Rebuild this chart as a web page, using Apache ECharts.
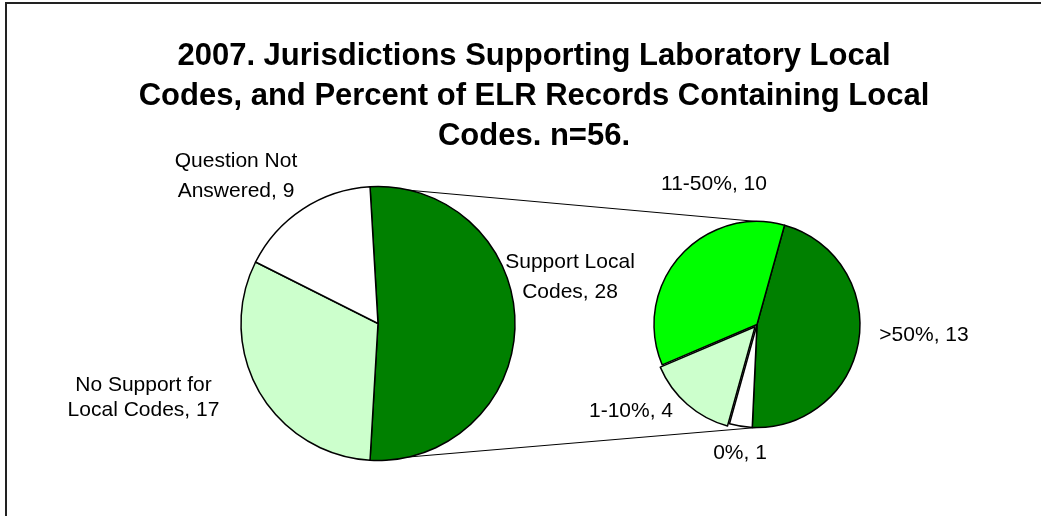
<!DOCTYPE html>
<html>
<head>
<meta charset="utf-8">
<script src="https://cdn.jsdelivr.net/npm/echarts@6/dist/echarts.min.js"></script>
<style>
  html, body { margin: 0; padding: 0; background: #fff; }
  #chart { width: 1041px; height: 516px; }
</style>
</head>
<body>
<div id="chart"></div>
<script>
// data
var mainNames = ['Support Local\nCodes', 'No Support for\nLocal Codes', 'Question Not\nAnswered'];
var mainValues = [28, 17, 9];
var subNames = ['>50%', '0%', '1-10%', '11-50%'];
var subValues = [13, 1, 4, 10];

var mainColors = ['#008000', '#ccffcc', '#ffffff'];
var subColors = ['#008000', '#ffffff', '#ccffcc', '#00ff00'];
var explodedName = '1-10%';

// geometry
var mainCenter = [378, 323.5], mainR = 137;
var subCenter = [757, 324.5], subR = 103;
var explodeDist = 3;

function sum(arr) { return arr.reduce(function (a, b) { return a + b; }, 0); }
function ptOn(c, r, deg) {
    var a = deg * Math.PI / 180;
    return [c[0] + r * Math.cos(a), c[1] - r * Math.sin(a)];
}

var splitSpan = 360 * mainValues[0] / sum(mainValues);
var mainStart = splitSpan / 2;
var subStart = 74.5;

// centre of the pulled-out slice, moved along its mid angle
var exIdx = subNames.indexOf(explodedName);
var exMid = subStart - 360 * (sum(subValues.slice(0, exIdx)) + subValues[exIdx] / 2) / sum(subValues);
var exCenter = ptOn(subCenter, explodeDist, exMid);

// label centres and line spacing
var mainLabelPos = [[570, 277], [143.5, 398], [236, 176]];
var mainLabelLH = [30, 25, 30];
var subLabelPos = [[924, 335], [740, 453], [631, 411], [714, 184]];

var p1 = ptOn(mainCenter, mainR, mainStart);
var p2 = ptOn(mainCenter, mainR, mainStart - splitSpan);
var q1 = [subCenter[0], subCenter[1] - subR];
var q2 = [subCenter[0], subCenter[1] + subR];

var myChart = echarts.init(document.getElementById('chart'));

var labelStyle = {
    show: true,
    position: 'outside',
    formatter: '{b}, {c}',
    fontFamily: 'Liberation Sans, Arial, sans-serif',
    fontSize: 21,
    lineHeight: 25,
    color: '#000',
    align: 'center'
};

var option = {
    backgroundColor: '#fff',
    animation: false,
    title: {
        text: '2007. Jurisdictions Supporting Laboratory Local\nCodes, and Percent of ELR Records Containing Local\nCodes. n=56.',
        left: 529,
        textAlign: 'center',
        top: 31,
        textStyle: {
            fontFamily: 'Liberation Sans, Arial, sans-serif',
            fontSize: 31,
            fontWeight: 'bold',
            lineHeight: 40,
            color: '#000'
        }
    },
    graphic: [
        {
            type: 'rect',
            shape: { x: 6, y: 3, width: 1100, height: 600 },
            style: { fill: 'none', stroke: '#222', lineWidth: 2 },
            silent: true
        },
        {
            type: 'line',
            shape: { x1: p1[0], y1: p1[1], x2: q1[0], y2: q1[1] },
            style: { stroke: '#000', lineWidth: 1 },
            z: -1
        },
        {
            type: 'line',
            shape: { x1: p2[0], y1: p2[1], x2: q2[0], y2: q2[1] },
            style: { stroke: '#000', lineWidth: 1 },
            z: -1
        }
    ],
    series: [
        {
            type: 'pie',
            center: mainCenter,
            radius: mainR,
            startAngle: mainStart,
            clockwise: true,
            avoidLabelOverlap: false,
            label: labelStyle,
            labelLine: { show: false },
            labelLayout: function (params) {
                var p = mainLabelPos[params.dataIndex];
                return { x: p[0], y: p[1], align: 'center', verticalAlign: 'middle' };
            },
            itemStyle: { borderColor: '#000', borderWidth: 1.5 },
            emphasis: { disabled: true },
            data: mainValues.map(function (v, i) {
                return {
                    name: mainNames[i],
                    value: v,
                    itemStyle: { color: mainColors[i] },
                    label: { lineHeight: mainLabelLH[i] }
                };
            })
        },
        {
            type: 'pie',
            center: subCenter,
            radius: subR,
            startAngle: subStart,
            clockwise: true,
            avoidLabelOverlap: false,
            label: labelStyle,
            labelLine: { show: false },
            labelLayout: function (params) {
                var p = subLabelPos[params.dataIndex];
                return { x: p[0], y: p[1], align: 'center', verticalAlign: 'middle' };
            },
            itemStyle: { borderColor: '#000', borderWidth: 1.5 },
            emphasis: { disabled: true },
            data: subValues.map(function (v, i) {
                var hide = subNames[i] === explodedName;
                return {
                    name: subNames[i],
                    value: v,
                    itemStyle: hide ? { color: 'rgba(0,0,0,0)', borderWidth: 0 } : { color: subColors[i] }
                };
            })
        },
        {
            // the pulled-out slice of the second pie
            type: 'pie',
            center: exCenter,
            radius: subR,
            startAngle: subStart,
            clockwise: true,
            silent: true,
            label: { show: false },
            labelLine: { show: false },
            itemStyle: { borderColor: '#000', borderWidth: 1.5 },
            emphasis: { disabled: true },
            data: subValues.map(function (v, i) {
                var show = subNames[i] === explodedName;
                return {
                    name: subNames[i],
                    value: v,
                    itemStyle: show ? { color: subColors[i] } : { color: 'rgba(0,0,0,0)', borderWidth: 0 }
                };
            })
        }
    ]
};

myChart.setOption(option);
</script>
</body>
</html>
